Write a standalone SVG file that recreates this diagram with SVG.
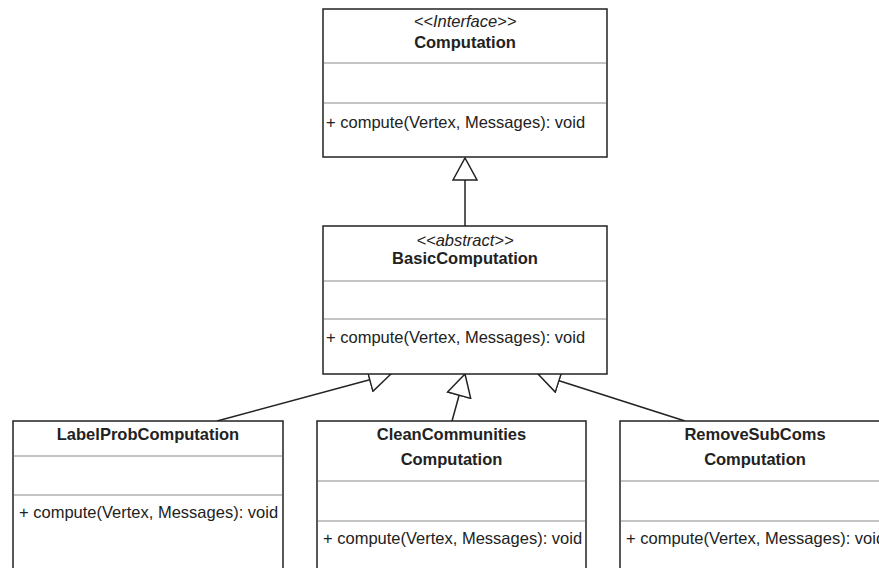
<svg xmlns="http://www.w3.org/2000/svg" width="879" height="568" viewBox="0 0 879 568">
<style>
.box{fill:#fff;stroke:#222;stroke-width:1.5}
.div{stroke:#c4c4c4;stroke-width:2}
text{font-family:"Liberation Sans",Arial,sans-serif;font-size:16.5px;fill:#222}
.name{font-weight:bold;text-anchor:middle}
.st{font-style:italic;text-anchor:middle}
.edge{stroke:#222;stroke-width:1.5;fill:none;marker-end:url(#tri)}
</style>
<defs>
<marker id="tri" markerUnits="userSpaceOnUse" markerWidth="24" markerHeight="26" viewBox="-1 -1 24 26" refX="22" refY="12" orient="auto">
<path d="M0,0 L22,12 L0,24 Z" fill="#fff" stroke="#222" stroke-width="1.5"/>
</marker>
</defs>
<rect width="879" height="568" fill="#fff"/>
<g id="edges">
<line class="edge" x1="465" y1="226" x2="465" y2="158"/>
<line class="edge" x1="217" y1="421" x2="391" y2="374"/>
<line class="edge" x1="452" y1="421" x2="465" y2="374"/>
<line class="edge" x1="685" y1="421" x2="538" y2="374"/>
</g>
<g id="Computation">
<rect class="box" x="323" y="9" width="284" height="148"/>
<line class="div" x1="324" y1="63" x2="606" y2="63"/>
<line class="div" x1="324" y1="103" x2="606" y2="103"/>
<text class="st" x="465" y="27">&lt;&lt;Interface&gt;&gt;</text>
<text class="name" x="465" y="48">Computation</text>
<text x="326" y="128">+ compute(Vertex, Messages): void</text>
</g>
<g id="BasicComputation">
<rect class="box" x="323" y="226" width="284" height="148"/>
<line class="div" x1="324" y1="281" x2="606" y2="281"/>
<line class="div" x1="324" y1="319" x2="606" y2="319"/>
<text class="st" x="465" y="246">&lt;&lt;abstract&gt;&gt;</text>
<text class="name" x="465" y="264">BasicComputation</text>
<text x="326" y="343">+ compute(Vertex, Messages): void</text>
</g>
<g id="LabelProbComputation">
<rect class="box" x="13" y="421" width="270" height="160"/>
<line class="div" x1="14" y1="456" x2="282" y2="456"/>
<line class="div" x1="14" y1="495" x2="282" y2="495"/>
<text class="name" x="148" y="440">LabelProbComputation</text>
<text x="19" y="518">+ compute(Vertex, Messages): void</text>
</g>
<g id="CleanCommunitiesComputation">
<rect class="box" x="317" y="421" width="269" height="160"/>
<line class="div" x1="318" y1="481" x2="585" y2="481"/>
<line class="div" x1="318" y1="521" x2="585" y2="521"/>
<text class="name" x="451.5" y="440">CleanCommunities</text>
<text class="name" x="451.5" y="465">Computation</text>
<text x="323" y="544">+ compute(Vertex, Messages): void</text>
</g>
<g id="RemoveSubComsComputation">
<rect class="box" x="620" y="421" width="270" height="160"/>
<line class="div" x1="621" y1="481" x2="889" y2="481"/>
<line class="div" x1="621" y1="521" x2="889" y2="521"/>
<text class="name" x="755" y="440">RemoveSubComs</text>
<text class="name" x="755" y="465">Computation</text>
<text x="626" y="544">+ compute(Vertex, Messages): void</text>
</g>
</svg>
